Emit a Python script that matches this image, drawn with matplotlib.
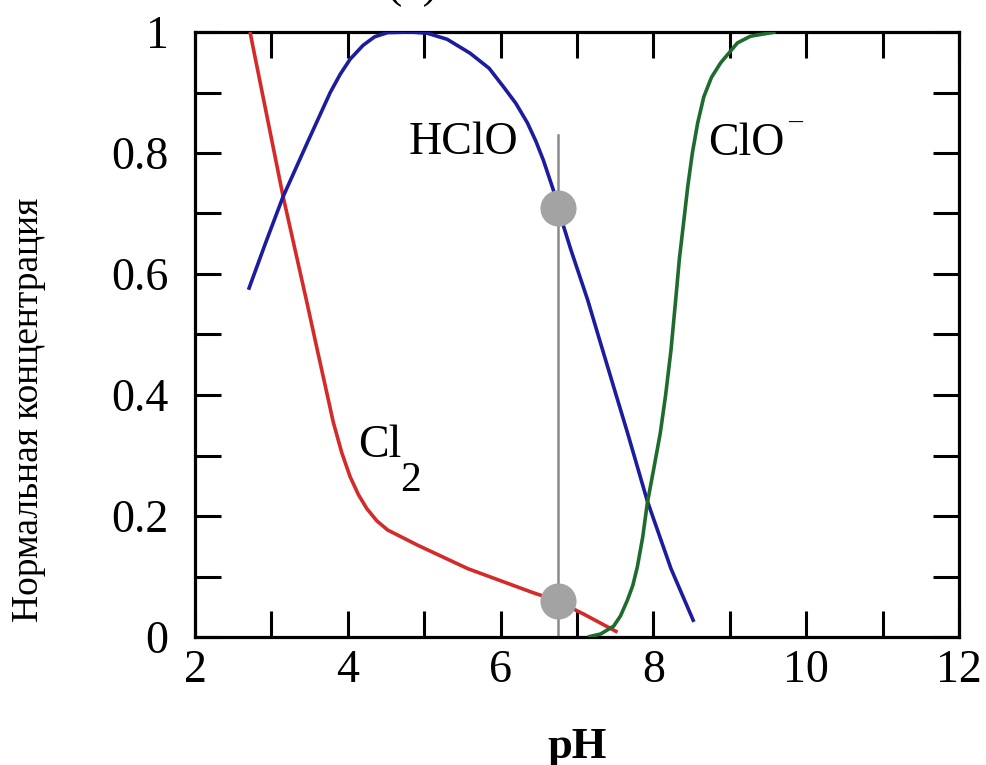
import matplotlib
matplotlib.use("Agg")
import matplotlib.pyplot as plt
from matplotlib.ticker import MultipleLocator, FixedLocator

# --- data ---
cl2_ph = [2.72, 3.15, 3.47, 3.60, 3.81, 3.92, 4.03, 4.14, 4.25, 4.38, 4.52, 4.91, 5.57, 6.43,
          6.74, 7.10, 7.53]
cl2_c = [1.0, 0.73, 0.55, 0.475, 0.355, 0.305, 0.265, 0.235, 0.212, 0.192, 0.177, 0.152, 0.113,
         0.073, 0.060, 0.037, 0.008]

hclo_ph = [2.70, 2.92, 3.15, 3.47, 3.77, 3.90, 4.03, 4.20, 4.35, 4.52, 4.82, 5.04, 5.30, 5.60,
           5.85, 6.04, 6.20, 6.35, 6.46, 6.56, 6.69, 6.74, 6.92, 7.14, 7.31, 7.50, 7.66, 7.92,
           8.23, 8.53]
hclo_c = [0.574, 0.65, 0.727, 0.817, 0.900, 0.930, 0.955, 0.978, 0.992, 0.999, 1.0, 0.998, 0.988,
          0.965, 0.940, 0.909, 0.882, 0.850, 0.820, 0.788, 0.739, 0.713, 0.640, 0.557, 0.485,
          0.405, 0.338, 0.225, 0.113, 0.025]

clo_ph = [7.14, 7.31, 7.48, 7.57, 7.66, 7.73, 7.79, 7.86, 7.92, 8.00, 8.09, 8.16, 8.23, 8.29,
          8.34, 8.40, 8.45, 8.51, 8.58, 8.66, 8.76, 8.88, 9.10, 9.27, 9.50, 9.60]
clo_c = [0.0, 0.005, 0.018, 0.035, 0.061, 0.085, 0.116, 0.165, 0.221, 0.275, 0.337, 0.400, 0.474,
         0.555, 0.625, 0.690, 0.745, 0.800, 0.850, 0.893, 0.925, 0.949, 0.982, 0.993, 0.998, 1.0]

marker_ph = 6.75
marker_line_top = 0.83
marker_c = [0.709, 0.060]

x_ticks = [2, 4, 6, 8, 10, 12]
y_ticks = [0, 0.2, 0.4, 0.6, 0.8, 1]
y_tick_labels = ["0", "0.2", "0.4", "0.6", "0.8", "1"]

serif = ["Liberation Serif", "DejaVu Serif"]
plt.rcParams["font.family"] = serif

fig = plt.figure(figsize=(9.86, 7.65), dpi=100)
ax = fig.add_axes([195 / 986, 128 / 765, (959 - 195) / 986, (637 - 32) / 765])

lw = 2.6
ax.plot(cl2_ph, cl2_c, color="#d42a2a", lw=lw, solid_capstyle="butt", solid_joinstyle="round", zorder=3)
ax.plot(hclo_ph, hclo_c, color="#1c1c9c", lw=lw, solid_capstyle="butt", solid_joinstyle="round", zorder=3)
ax.plot(clo_ph, clo_c, color="#1f6b2e", lw=lw, solid_capstyle="butt", solid_joinstyle="round", zorder=3)

ax.plot([marker_ph, marker_ph], [0, marker_line_top], color="#8a8a8a", lw=1.8, zorder=2)
ax.plot([marker_ph] * len(marker_c), marker_c, "o", color="#a3a3a3", ms=26, mec="none", zorder=4)

ax.set_xlim(2, 12)
ax.set_ylim(0, 1)
ax.xaxis.set_major_locator(FixedLocator(x_ticks))
ax.xaxis.set_minor_locator(MultipleLocator(1))
ax.yaxis.set_major_locator(FixedLocator(y_ticks))
ax.yaxis.set_minor_locator(MultipleLocator(0.1))
ax.set_yticklabels(y_tick_labels)
ax.set_xticklabels([str(t) for t in x_ticks])

for s in ax.spines.values():
    s.set_linewidth(2.3)
ax.tick_params(which="both", direction="in", top=True, right=True, length=18.5, width=2.2)
ax.tick_params(axis="x", which="major", labelsize=33, pad=9)
ax.tick_params(axis="y", which="major", labelsize=33, pad=19)

# curve labels
ax.text(5.51, 0.817, "HClO", fontsize=33, ha="center", va="center")
ax.text(9.21, 0.815, "ClO", fontsize=33, ha="center", va="center")
ax.text(9.86, 0.85, "\u2013", fontsize=20, ha="center", va="center")
ax.text(4.42, 0.316, "Cl", fontsize=33, ha="center", va="center")
ax.text(4.82, 0.258, "2", fontsize=30, ha="center", va="center")

ax.set_xlabel("pH", fontsize=32, fontweight="bold")
ax.xaxis.set_label_coords(0.5, -0.148)
fig.text(29 / 986, 1 - 410 / 765, "Нормальная концентрация", rotation=90,
         fontsize=27, ha="center", va="center")

# panel label, mostly cut off by the top edge as in the reference
fig.text(412 / 986, 1 + 3 / 765, "(a)", fontsize=33, ha="center", va="baseline")

fig.savefig("out.png", dpi=100)
